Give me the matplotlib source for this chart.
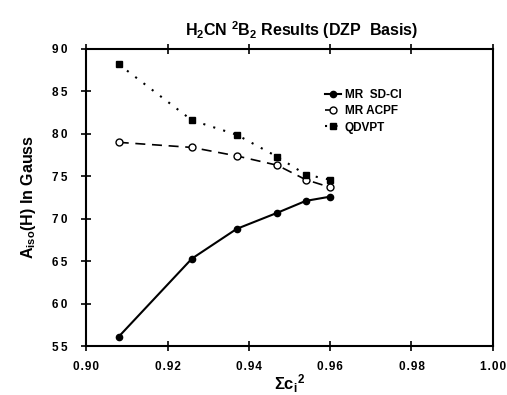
import matplotlib
matplotlib.use("Agg")
import matplotlib.pyplot as plt

plt.rcParams['font.family'] = ['Liberation Sans', 'DejaVu Sans']
plt.rcParams['font.weight'] = 'bold'
plt.rcParams['axes.titleweight'] = 'bold'
plt.rcParams['axes.labelweight'] = 'bold'
plt.rcParams['mathtext.fontset'] = 'custom'
plt.rcParams['mathtext.rm'] = 'Liberation Sans:bold'
plt.rcParams['mathtext.it'] = 'Liberation Sans:bold'
plt.rcParams['mathtext.bf'] = 'Liberation Sans:bold'
plt.rcParams['mathtext.default'] = 'bf'

# values
sdci_x = [0.908, 0.926, 0.937, 0.947, 0.954, 0.960]
sdci_y = [56.1, 65.3, 68.8, 70.7, 72.1, 72.6]
acpf_x = [0.908, 0.926, 0.937, 0.947, 0.954, 0.960]
acpf_y = [79.0, 78.4, 77.4, 76.3, 74.6, 73.7]
qdvpt_x = [0.908, 0.926, 0.937, 0.947, 0.954, 0.960]
qdvpt_y = [88.2, 81.6, 79.9, 77.3, 75.2, 74.6]

x_ticks = [0.90, 0.92, 0.94, 0.96, 0.98, 1.00]
y_ticks = [55, 60, 65, 70, 75, 80, 85, 90]

fig = plt.figure(figsize=(5.07, 3.95), dpi=100)
ax = fig.add_axes([0.170, 0.124, 0.802, 0.752])

ax.plot(sdci_x, sdci_y, '-', color='black', lw=1.5, marker='o', ms=4.5,
        label='MR  SD-CI')
ax.plot(acpf_x, acpf_y, '--', color='black', lw=1.2, dashes=(6, 4), marker='o',
        ms=5, mfc='white', mec='black', label='MR ACPF')
ax.plot(qdvpt_x, qdvpt_y, ':', color='black', lw=1.5, dashes=(1, 4), marker='s',
        ms=5, label='QDVPT')

ax.set_xlim(0.90, 1.00)
ax.set_ylim(55, 90)
ax.set_xticks(x_ticks)
ax.set_xticklabels(["\u200a".join(f"{v:.2f}") for v in x_ticks])
ax.set_yticks(y_ticks)
ax.set_yticklabels(["\u2009".join(str(v)) for v in y_ticks])
ax.tick_params(direction='inout', length=7, width=1.2, labelsize=8.5, top=True)
ax.tick_params(axis='x', pad=7)
ax.tick_params(axis='y', pad=10)
for s in ax.spines.values():
    s.set_linewidth(1.5)

ax.set_title("H$_2$CN $^2$B$_2$ Results (DZP  Basis)", fontsize=11.5, pad=9,
             x=0.53, fontweight='bold')
ax.set_xlabel(r"$\Sigma$c$_i$$^2$", fontsize=12, labelpad=0, fontweight='bold')
ax.set_ylabel("A$_{iso}$(H) In Gauss", fontsize=11.5, labelpad=10,
              fontweight='bold')

ax.legend(loc='upper left', bbox_to_anchor=(0.56, 0.9), frameon=False,
          fontsize=8.5, handlelength=1.4, handletextpad=0.3, labelspacing=0.35)

fig.savefig("out.png", dpi=100)
